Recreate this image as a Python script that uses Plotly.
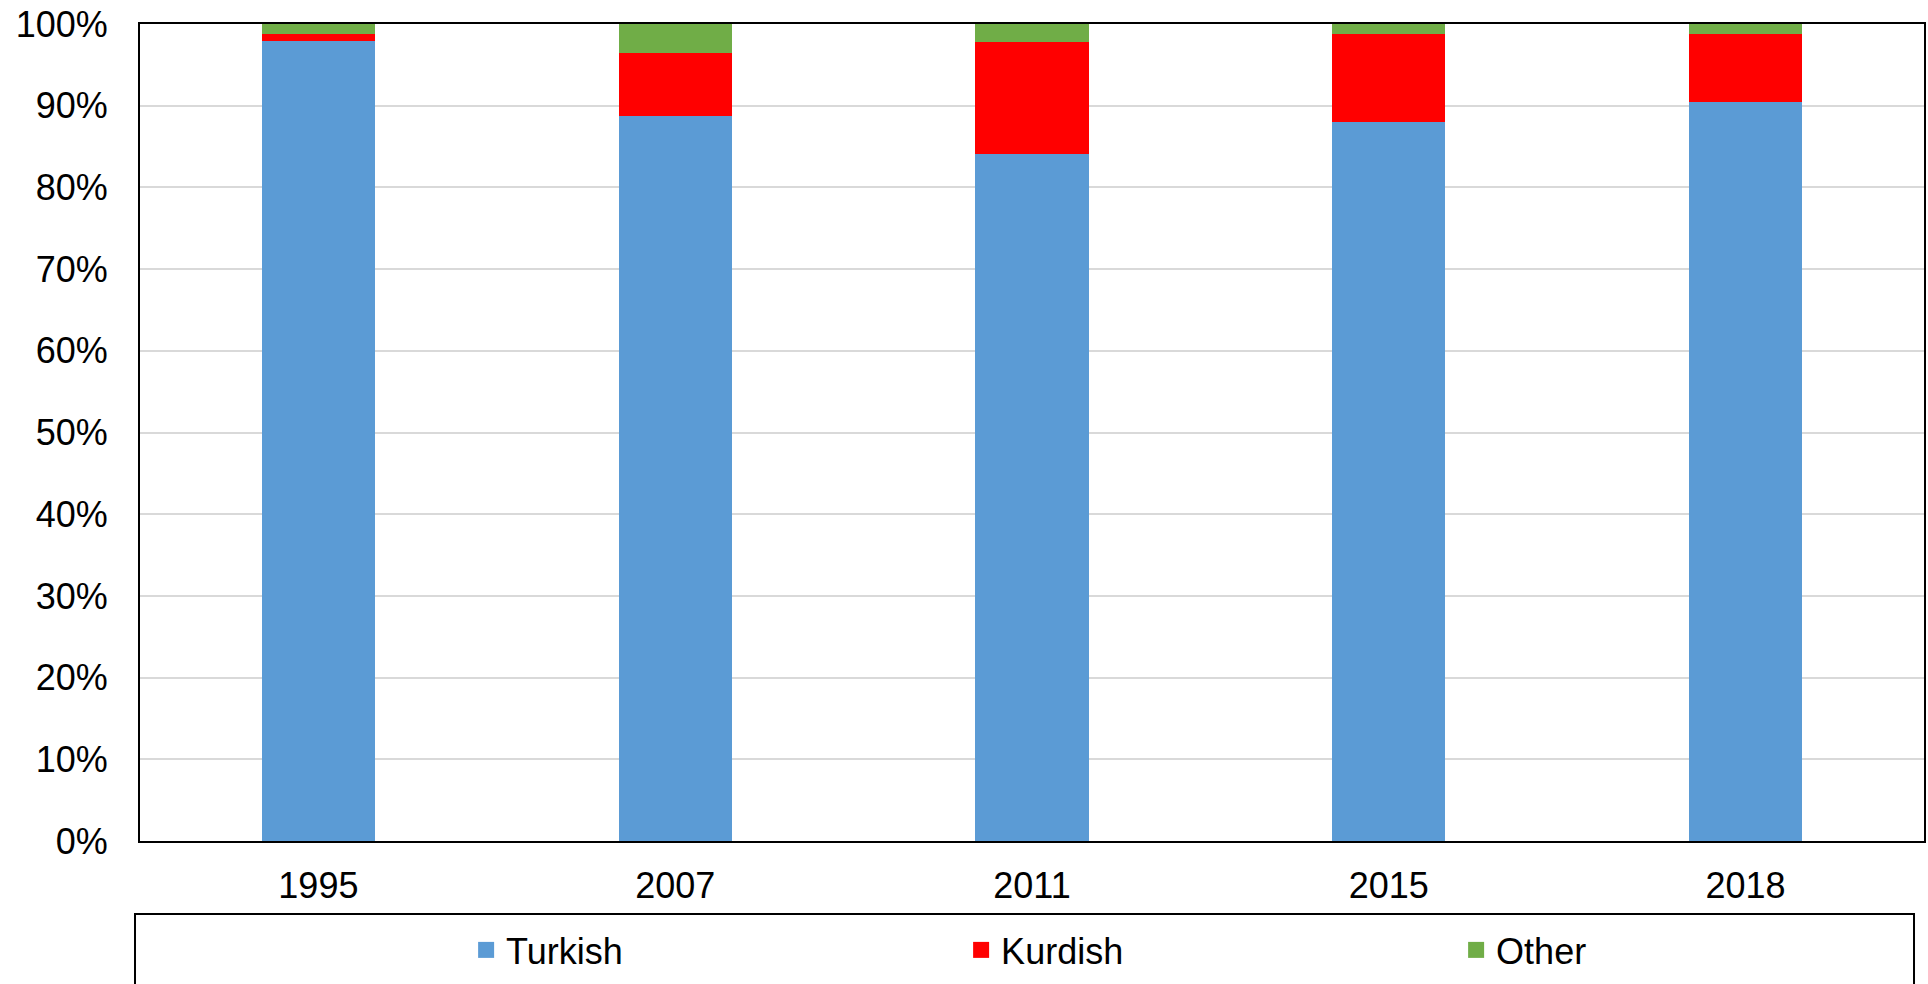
import plotly.graph_objects as go

# survey years and language shares (%)
years = ["1995", "2007", "2011", "2015", "2018"]
turkish = [97.9, 88.7, 84.1, 88.0, 90.4]
kurdish = [0.9, 7.8, 13.7, 10.8, 8.4]
other = [1.2, 3.5, 2.2, 1.2, 1.2]

series = [("Turkish", turkish, "#5B9BD5"),
          ("Kurdish", kurdish, "#FF0000"),
          ("Other", other, "#70AD47")]

fig = go.Figure()
for name, vals, col in series:
    fig.add_trace(go.Bar(x=years, y=vals, name=name, marker_color=col,
                         marker_line_width=0, showlegend=False))
    # legend-only entry so the square swatch is a bit bigger
    fig.add_trace(go.Scatter(x=[None], y=[None], mode="markers", name=name,
                             marker=dict(symbol="square", size=20, color=col)))

fig.update_layout(
    barmode="stack",
    bargap=0.683,
    width=1928, height=984,
    margin=dict(l=140, r=4, t=24, b=143, autoexpand=False),
    plot_bgcolor="white", paper_bgcolor="white",
    font=dict(family="Liberation Sans, Arial, sans-serif", size=36, color="black"),
    legend=dict(orientation="h", x=0.1828, xanchor="left", y=-0.1334, yanchor="middle",
                traceorder="normal", entrywidth=450, entrywidthmode="pixels",
                bgcolor="rgba(0,0,0,0)", font=dict(size=36)),
)
fig.update_xaxes(showline=True, linecolor="black", linewidth=2, mirror=True,
                 ticks="", ticklabelstandoff=12)
fig.update_yaxes(range=[0, 100], dtick=10, ticksuffix="%", showgrid=True,
                 gridcolor="#D9D9D9", gridwidth=1.5, zeroline=False,
                 showline=True, linecolor="black", linewidth=2, mirror=True,
                 ticks="", ticklabelstandoff=23, ticklabeloverflow="allow")

# legend frame
fig.add_shape(type="rect", xref="paper", yref="paper",
              x0=-0.0028, x1=0.9944, y0=-0.19, y1=-0.0894,
              line=dict(color="black", width=2), fillcolor="rgba(0,0,0,0)")

# drop the browser's default page margin so the chart fills the window
fig.write_html("out.html", config={"displayModeBar": False},
               post_script="document.body.style.margin='0';document.body.style.overflow='hidden';")
